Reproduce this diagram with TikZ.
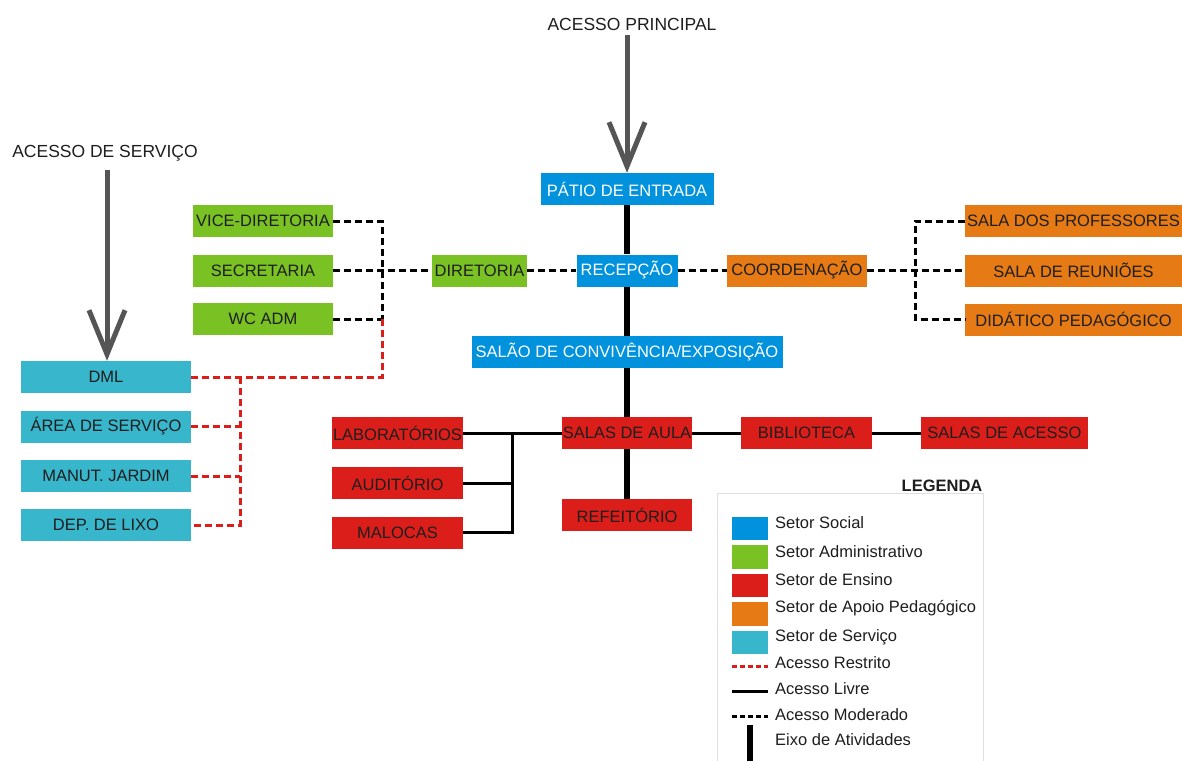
\documentclass[tikz,border=0pt]{standalone}
\usepackage{fontspec}
\setmainfont{Liberation Sans}
\usetikzlibrary{arrows.meta}
\definecolor{social}{RGB}{0,146,221}
\definecolor{admin}{RGB}{122,193,36}
\definecolor{ensino}{RGB}{220,30,26}
\definecolor{apoio}{RGB}{230,122,20}
\definecolor{servico}{RGB}{56,182,203}
\definecolor{arrowgray}{RGB}{85,85,85}
\definecolor{txt}{RGB}{30,30,30}
\begin{document}
\begin{tikzpicture}[x=1pt,y=-1pt,
  box/.style={rectangle, inner sep=0pt, minimum height=32, text=txt,
    font=\fontsize{16.5}{18}\selectfont},
  soc/.style={box, fill=social, text=white},
  adm/.style={box, fill=admin},
  ens/.style={box, fill=ensino},
  apo/.style={box, fill=apoio},
  ser/.style={box, fill=servico},
  mod/.style={draw=black, line width=3pt, dash pattern=on 7pt off 4pt},
  res/.style={draw=ensino, line width=3pt, dash pattern=on 7pt off 4pt},
  free/.style={draw=black, line width=3pt},
  axis/.style={draw=black, line width=6.5pt},
  acc/.style={draw=arrowgray, line width=5pt,
    -{Straight Barb[length=44pt, width=36pt, line width=5pt]}},
  lbl/.style={inner sep=0pt, text=txt, font=\fontsize{17.5}{19}\selectfont},
  lgd/.style={inner sep=0pt, anchor=west, text=txt, font=\fontsize{16.5}{18}\selectfont},
  sw/.style={rectangle, inner sep=0pt, minimum width=36, minimum height=23.5}
]
\useasboundingbox (0,0) rectangle (1182,760);
\fill[white] (0,0) rectangle (1182,760);

% legend frame
\draw[draw=black!12, line width=1pt] (717,770) -- (717,493) -- (983,493) -- (983,770);

% titles
\node[lbl] (tprin) at (632,24) {ACESSO PRINCIPAL};
\node[lbl] (tserv) at (105,153) {ACESSO DE SERVIÇO};

% boxes
\node[soc, minimum width=173] (patio) at (627,189) {PÁTIO DE ENTRADA};
\node[soc, minimum width=101] (recep) at (627,270.5) {RECEPÇÃO};
\node[adm, minimum width=95] (dir) at (479.5,270.5) {DIRETORIA};
\node[soc, minimum width=311] (salao) at (627,352) {SALÃO DE CONVIVÊNCIA/EXPOSIÇÃO};
\node[apo, minimum width=140] (coord) at (797,270.5) {COORDENAÇÃO};
\node[apo, minimum width=217] (prof) at (1073.5,221) {SALA DOS PROFESSORES};
\node[apo, minimum width=217] (reun) at (1073.5,270.5) {SALA DE REUNIÕES};
\node[apo, minimum width=217] (didat) at (1073.5,319.5) {DIDÁTICO PEDAGÓGICO};
\node[adm, minimum width=140] (vice) at (263,221) {VICE-DIRETORIA};
\node[adm, minimum width=140] (secr) at (263,270.5) {SECRETARIA};
\node[adm, minimum width=140] (wc) at (263,319) {WC ADM};
\node[ser, minimum width=170] (dml) at (106,377) {DML};
\node[ser, minimum width=170] (area) at (106,426.5) {ÁREA DE SERVIÇO};
\node[ser, minimum width=170] (manut) at (106,476) {MANUT. JARDIM};
\node[ser, minimum width=170] (dep) at (106,525) {DEP. DE LIXO};
\node[ens, minimum width=131] (lab) at (397.5,433) {LABORATÓRIOS};
\node[ens, minimum width=131] (aud) at (397.5,483) {AUDITÓRIO};
\node[ens, minimum width=131] (mal) at (397.5,532.5) {MALOCAS};
\node[ens, minimum width=130] (aula) at (627,433) {SALAS DE AULA};
\node[ens, minimum width=130] (refei) at (627,515) {REFEITÓRIO};
\node[ens, minimum width=131] (bib) at (806.5,433) {BIBLIOTECA};
\node[ens, minimum width=167] (acesso) at (1004.5,433) {SALAS DE ACESSO};

% access arrows
\coordinate (pstart) at (627,35);
\coordinate (sstart) at (107,170);
\draw[acc] (pstart) -- (patio.north);
\draw[acc] (sstart) -- (dml.north -| sstart);

% activity axis
\draw[axis] (patio) -- (recep);
\draw[axis] (recep) -- (salao);
\draw[axis] (salao) -- (aula);
\draw[axis] (aula) -- (refei);

% moderated access
\coordinate (jr) at (915,270.5);
\coordinate (jw) at (382,319);
\draw[mod] (dir) -- (recep);
\draw[mod] (recep) -- (coord);
\draw[mod] (coord) -- (reun);
\draw[mod] (prof.west) -| (jr) |- (didat.west);
\draw[mod] (secr) -- (dir);
\draw[mod] (vice.east) -| (jw);
\draw[mod] (wc.east) -- (jw);

% restricted access
\coordinate (js) at (240,377);
\draw[res] (jw) |- (dml.east);
\draw[res] (js) |- (dep.east);
\draw[res] (area.east) -- (area.east -| js);
\draw[res] (manut.east) -- (manut.east -| js);

% free access
\coordinate (jb) at (512,433);
\draw[free] (lab) -- (aula);
\draw[free] (aud.east) -- (aud.east -| jb);
\draw[free] (jb) |- (mal.east);
\draw[free] (aula) -- (bib);
\draw[free] (bib) -- (acesso);

% legend
\node[inner sep=0pt, text=txt, font=\fontsize{16.5}{18}\selectfont\bfseries] (ltitle) at (942,486) {LEGENDA};
\node[sw, fill=social] (s1) at (750,528.5) {};
\node[sw, fill=admin] (s2) at (750,557) {};
\node[sw, fill=ensino] (s3) at (750,585.5) {};
\node[sw, fill=apoio] (s4) at (750,614) {};
\node[sw, fill=servico] (s5) at (750,642.5) {};
\node[lgd] (l1) at (775,523) {Setor Social};
\node[lgd] (l2) at (775,551.5) {Setor Administrativo};
\node[lgd] (l3) at (775,580) {Setor de Ensino};
\node[lgd] (l4) at (775,608.5) {Setor de Apoio Pedagógico};
\node[lgd] (l5) at (775,637) {Setor de Serviço};
\node[lgd] (l6) at (775,663) {Acesso Restrito};
\node[lgd] (l7) at (775,689) {Acesso Livre};
\node[lgd] (l8) at (775,714.5) {Acesso Moderado};
\node[lgd] (l9) at (775,740) {Eixo de Atividades};
\coordinate (r1) at (732,666); \coordinate (r2) at (768,666);
\coordinate (f1) at (732,691); \coordinate (f2) at (768,691);
\coordinate (m1) at (732,716); \coordinate (m2) at (768,716);
\coordinate (e1) at (750,725); \coordinate (e2) at (750,765);
\draw[res, dash pattern=on 5pt off 3pt] (r1) -- (r2);
\draw[free] (f1) -- (f2);
\draw[mod, dash pattern=on 5pt off 3pt] (m1) -- (m2);
\draw[axis] (e1) -- (e2);
\end{tikzpicture}
\end{document}
